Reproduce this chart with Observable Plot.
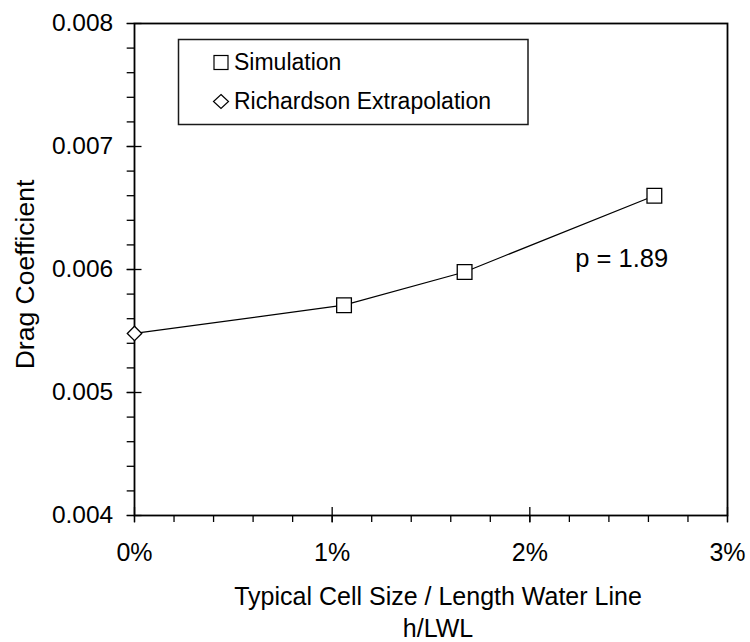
<!DOCTYPE html>
<html>
<head>
<meta charset="utf-8">
<script src="https://cdn.jsdelivr.net/npm/d3@7"></script>
<script src="https://cdn.jsdelivr.net/npm/@observablehq/plot@0.6"></script>
<style>
  html, body { margin: 0; padding: 0; background: #fff; }
  #chart { position: relative; width: 750px; height: 642px; }
</style>
</head>
<body>
<div id="chart"></div>
<script>
// Grid-convergence study: drag coefficient versus relative cell size
const simCellSize = [1.06, 1.67, 2.63];            // h/LWL, percent
const simDrag = [0.00571, 0.00598, 0.00660];
const richardsonCellSize = [0];
const richardsonDrag = [0.00548];

const xMajorTicks = [0, 1, 2, 3];
const xMinorTicks = d3.range(0, 3.001, 0.2);
const yMajorTicks = [0.004, 0.005, 0.006, 0.007, 0.008];
const yMinorTicks = d3.range(0.004, 0.00801, 0.0002);

const orderLabel = "p = 1.89";
const orderLabelAt = {x: 2.23, y: 0.00602};

const xTitle = "Typical Cell Size / Length Water Line\nh/LWL";
const yTitle = "Drag Coefficient";
const legendItems = ["Simulation", "Richardson Extrapolation"];

const simulation = simCellSize.map((x, i) => ({x, y: simDrag[i]}));
const richardson = richardsonCellSize.map((x, i) => ({x, y: richardsonDrag[i]}));
const curve = [...richardson, ...simulation].sort((a, b) => a.x - b.x);

const W = 750, H = 642;
const mL = 134, mR = 23, mT = 23, mB = 127;
const plotW = W - mL - mR, plotH = H - mT - mB;
const font = "'Liberation Sans', Arial, Helvetica, sans-serif";

const chart = Plot.plot({
  width: W,
  height: H,
  marginLeft: mL,
  marginRight: mR,
  marginTop: mT,
  marginBottom: mB,
  style: {fontFamily: font, color: "#000", background: "#fff"},
  x: {domain: [0, 3]},
  y: {domain: [0.004, 0.008]},
  marks: [
    Plot.frame({stroke: "#000", strokeWidth: 1.8}),
    // minor ticks (outward only)
    Plot.axisX({ticks: xMinorTicks, tickSize: 7, tickFormat: () => "", label: null, strokeWidth: 1.3}),
    Plot.axisY({ticks: yMinorTicks, tickSize: 7.3, tickFormat: () => "", label: null, strokeWidth: 1.3}),
    // major ticks with labels
    Plot.axisX({ticks: xMajorTicks, tickSize: 7.5, tickPadding: 20.5, tickFormat: d => d + "%",
      fontSize: 25, label: null, strokeWidth: 1.3}),
    Plot.axisY({ticks: yMajorTicks, tickSize: 7.3, tickPadding: 14, tickFormat: d3.format(".3f"),
      fontSize: 24.5, label: null, strokeWidth: 1.3}),
    // inward halves of the major ticks
    Plot.tickX(xMajorTicks, {x: d => d, insetTop: plotH - 8, stroke: "#000", strokeWidth: 1.3}),
    Plot.tickY(yMajorTicks, {y: d => d, insetRight: plotW - 7.5, stroke: "#000", strokeWidth: 1.3}),
    // axis titles
    Plot.text([xTitle], {frameAnchor: "bottom", lineAnchor: "top", dx: 7, dy: 67,
      fontSize: 25, lineHeight: 1.28, fill: "#000"}),
    Plot.text([yTitle], {frameAnchor: "left", rotate: -90, lineAnchor: "bottom", textAnchor: "middle",
      dx: -101, dy: 5, fontSize: 26.5, fill: "#000"}),
    // data
    Plot.line(curve, {x: "x", y: "y", stroke: "#000", strokeWidth: 1.2}),
    Plot.dot(simulation, {x: "x", y: "y", symbol: "square", r: 8.3, fill: "#fff", stroke: "#000", strokeWidth: 1.3}),
    Plot.dot(richardson, {x: "x", y: "y", symbol: "diamond2", r: 6.5, fill: "#fff", stroke: "#000", strokeWidth: 1.3}),
    Plot.text([orderLabel], {x: () => orderLabelAt.x, y: () => orderLabelAt.y, textAnchor: "start",
      lineAnchor: "bottom", fontSize: 25.5, fill: "#000"})
  ]
});

// Boxed legend in the upper-left corner of the plot area
const svg = d3.select(chart);
const lg = svg.append("g").attr("transform", "translate(178.5,39.5)").attr("text-anchor", "start");
lg.append("rect").attr("width", 349.5).attr("height", 85)
  .attr("fill", "#fff").attr("stroke", "#1a1a1a").attr("stroke-width", 1.5);
const rowY = [23, 62];
lg.append("rect").attr("x", 35.5).attr("y", rowY[0] - 7).attr("width", 14).attr("height", 14)
  .attr("fill", "#fff").attr("stroke", "#000").attr("stroke-width", 1.2);
lg.append("path").attr("d", `M42.5,${rowY[1] - 7}L50,${rowY[1]}L42.5,${rowY[1] + 7}L35,${rowY[1]}Z`)
  .attr("fill", "#fff").attr("stroke", "#000").attr("stroke-width", 1.2);
legendItems.forEach((t, i) => {
  lg.append("text").attr("x", 55.5).attr("y", rowY[i] + 7.5).attr("text-anchor", "start")
    .attr("font-family", font).attr("font-size", 23).attr("fill", "#000").text(t);
});

document.getElementById("chart").appendChild(chart);
</script>
</body>
</html>
